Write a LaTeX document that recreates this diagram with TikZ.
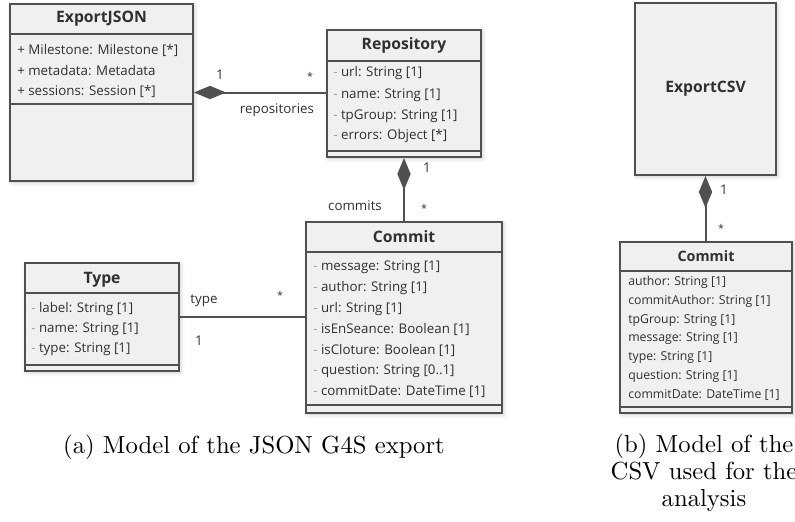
\documentclass[tikz,border=0pt]{standalone}
\usepackage{fontspec}
\newfontfamily\umlfont{Open Sans}
\newfontfamily\capfont[Extension=.otf]{lmroman10-regular}
\usetikzlibrary{arrows.meta,fit,shadows.blur}
\definecolor{boxfill}{HTML}{F0F0F0}
\definecolor{boxline}{HTML}{505050}
\definecolor{txt}{HTML}{303030}
\definecolor{dim}{HTML}{A0A0A0}
\tikzset{
 cls/.style={draw=boxline, line width=1.5pt, fill=boxfill, inner sep=0pt,
   blur shadow={shadow xshift=1.2pt, shadow yshift=-1.2pt, shadow blur radius=3pt, shadow opacity=22}},
 sepline/.style={draw=boxline, line width=1.5pt},
 ttl/.style={font=\umlfont\bfseries\fontsize{11.8}{13}\selectfont, text=txt, inner sep=0pt},
 ttlsmall/.style={font=\umlfont\bfseries\fontsize{10.8}{12}\selectfont, text=txt, inner sep=0pt},
 attr/.style={font=\umlfont\fontsize{10}{12}\selectfont, text=txt, anchor=west, inner sep=0pt},
 attrsmall/.style={font=\umlfont\fontsize{9.2}{11}\selectfont, text=txt, anchor=west, inner sep=0pt},
 lbl/.style={font=\umlfont\fontsize{10}{12}\selectfont, text=txt, inner sep=0pt},
 lblsmall/.style={font=\umlfont\fontsize{8}{10}\selectfont, text=txt, inner sep=0pt},
 comp/.style={draw=boxline, line width=1.5pt, {Diamond[length=24pt,width=10pt,fill=boxline]}-},
 assoc/.style={draw=boxline, line width=1.5pt},
 captxt/.style={font=\capfont\fontsize{18.5}{20.3}\selectfont, inner sep=0pt, align=center},
}
\newcommand\mm{\textcolor{dim}{-} }
\begin{document}
\begin{tikzpicture}[x=0.75pt,y=-0.75pt]
\useasboundingbox (0,0) rectangle (795,521);
\clip (0,0) rectangle (795,521);

% ---------- ExportJSON ----------
\node[cls, fit={(10,4) (193,181)}] (ej) {};
\draw[sepline] (10,34) -- (193,34);
\draw[sepline] (10,104) -- (193,104);
\node[ttl] (ejt) at (101.5,19) {ExportJSON};
\node[attr] (ej1) at (17,50) {+ Milestone: Milestone [*]};
\node[attr] (ej2) at (17,71) {+ metadata: Metadata};
\node[attr] (ej3) at (17,91.5) {+ sessions: Session [*]};

% ---------- Repository ----------
\node[cls, fit={(327,30) (481,157)}] (repo) {};
\draw[sepline] (327,61) -- (481,61);
\draw[sepline] (327,151) -- (481,151);
\node[ttl] (repot) at (404,45) {Repository};
\node[attr] (r1) at (333,73.5) {\mm url: String [1]};
\node[attr] (r2) at (333,95) {\mm name: String [1]};
\node[attr] (r3) at (333,116) {\mm tpGroup: String [1]};
\node[attr] (r4) at (333,136.5) {\mm errors: Object [*]};

% ---------- Commit ----------
\node[cls, fit={(306,222) (502,413)}] (com) {};
\draw[sepline] (306,252) -- (502,252);
\draw[sepline] (306,405) -- (502,405);
\node[ttl] (comt) at (404,237) {Commit};
\node[attr] (c1) at (313,267) {\mm message: String [1]};
\node[attr] (c2) at (313,287.8) {\mm author: String [1]};
\node[attr] (c3) at (313,308.6) {\mm url: String [1]};
\node[attr] (c4) at (313,329.4) {\mm isEnSeance: Boolean [1]};
\node[attr] (c5) at (313,350.2) {\mm isCloture: Boolean [1]};
\node[attr] (c6) at (313,371) {\mm question: String [0..1]};
\node[attr] (c7) at (313,391.8) {\mm commitDate: DateTime [1]};

% ---------- Type ----------
\node[cls, fit={(25,263) (179,371)}] (typ) {};
\draw[sepline] (25,293) -- (179,293);
\draw[sepline] (25,365) -- (179,365);
\node[ttl] (typt) at (102,280) {Type};
\node[attr] (t1) at (31,309) {\mm label: String [1]};
\node[attr] (t2) at (31,329) {\mm name: String [1]};
\node[attr] (t3) at (31,349) {\mm type: String [1]};

% ---------- ExportCSV ----------
\node[cls, fit={(635,3) (776,175)}] (csv) {};
\node[ttl] (csvt) at (705.5,89) {ExportCSV};

% ---------- Commit (CSV) ----------
\node[cls, fit={(620,242) (792,413)}] (cc) {};
\draw[sepline] (620,271) -- (792,271);
\draw[sepline] (620,407) -- (792,407);
\node[ttlsmall] (cct) at (706,256) {Commit};
\node[attrsmall] (cc1) at (628,282) {author: String [1]};
\node[attrsmall] (cc2) at (628,301) {commitAuthor: String [1]};
\node[attrsmall] (cc3) at (628,320) {tpGroup: String [1]};
\node[attrsmall] (cc4) at (628,338.5) {message: String [1]};
\node[attrsmall] (cc5) at (628,357.5) {type: String [1]};
\node[attrsmall] (cc6) at (628,376) {question: String [1]};
\node[attrsmall] (cc7) at (628,395) {commitDate: DateTime [1]};

% ---------- connectors ----------
\draw[comp] (ej.east) -- (ej.east -| repo.west);
\draw[comp] (repo.south) -- (com.north);
\draw[assoc] (typ.east) -- (typ.east -| com.west);
\draw[comp] (csv.south) -- (csv.south |- cc.north);

% ---------- labels ----------
\node[lbl] (l1) at (220,75) {1};
\node[lblsmall] (l2) at (310,76) {*};
\node[lbl] (l3) at (277,110) {repositories};
\node[lbl] (l4) at (427,168) {1};
\node[lbl] (l5) at (355,206) {commits};
\node[lblsmall] (l6) at (424,208) {*};
\node[lbl] (l7) at (204,301) {type};
\node[lblsmall] (l8) at (280,295) {*};
\node[lbl] (l9) at (199,341) {1};
\node[lbl] (l10) at (724,190) {1};
\node[lblsmall] (l11) at (721,228) {*};

% ---------- captions ----------
\node[captxt] (capa) at (254,447) {(a) Model of the JSON G4S export};
\node[captxt] (capb) at (704,473) {(b) Model of the\\CSV used for the\\analysis};
\end{tikzpicture}
\end{document}
